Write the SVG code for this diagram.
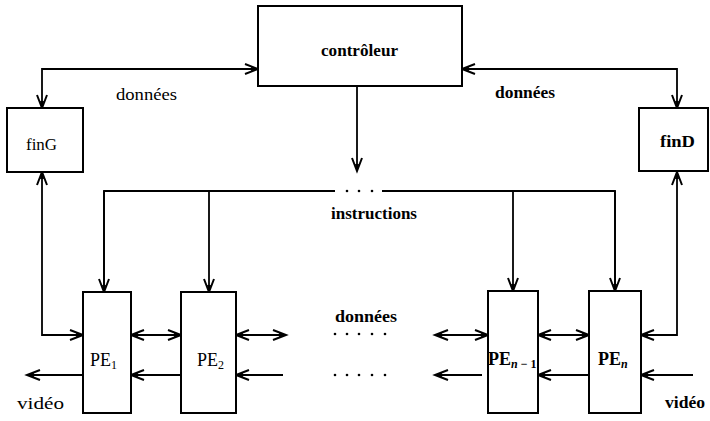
<svg xmlns="http://www.w3.org/2000/svg" width="710" height="421" viewBox="0 0 710 421">
<style>
.box{fill:#fff;stroke:#000;stroke-width:2}
.ln{fill:none;stroke:#000;stroke-width:1.8}
.t{font-family:"Liberation Serif","Times New Roman",serif;fill:#000;font-size:16px}
.pe{font-size:18px}
.sub{font-size:12px}
.b{font-weight:bold}
</style>
<defs>
<marker id="ah" markerUnits="userSpaceOnUse" markerWidth="16" markerHeight="12" viewBox="-14 -6 16 12" refX="0" refY="0" orient="auto-start-reverse" overflow="visible">
<path d="M-13,-5 L0,0 L-13,5" fill="none" stroke="#000" stroke-width="2"/>
<path d="M-7,-2 L0,0 L-7,2 Z" fill="#000"/>
</marker>
</defs>
<rect width="710" height="421" fill="#fff"/>
<g id="connectors">
<path class="ln" d="M42,108 L42,69 L258,69" marker-start="url(#ah)" marker-end="url(#ah)"/>
<path class="ln" d="M462,69 L677,69 L677,108" marker-start="url(#ah)" marker-end="url(#ah)"/>
<path class="ln" d="M357,86 L357,171" marker-end="url(#ah)"/>
<path class="ln" d="M104,292 L104,191 L335,191"/>
<path class="ln" d="M382,191 L615,191 L615,291"/>
<circle cx="347" cy="191" r="1.3"/><circle cx="359" cy="191" r="1.3"/><circle cx="372" cy="191" r="1.3"/>
<path class="ln" d="M104,191 L104,292" marker-end="url(#ah)"/>
<path class="ln" d="M209,191 L209,292" marker-end="url(#ah)"/>
<path class="ln" d="M513,191 L513,291" marker-end="url(#ah)"/>
<path class="ln" d="M615,191 L615,291" marker-end="url(#ah)"/>
<path class="ln" d="M42,172 L42,335 L83,335" marker-start="url(#ah)" marker-end="url(#ah)"/>
<path class="ln" d="M677,172 L677,335 L641,335" marker-start="url(#ah)" marker-end="url(#ah)"/>
<path class="ln" d="M131,335 L181,335" marker-start="url(#ah)" marker-end="url(#ah)"/>
<path class="ln" d="M236,335 L286,335" marker-start="url(#ah)" marker-end="url(#ah)"/>
<path class="ln" d="M435,335 L488,335" marker-start="url(#ah)" marker-end="url(#ah)"/>
<path class="ln" d="M538,335 L589,335" marker-start="url(#ah)" marker-end="url(#ah)"/>
<path class="ln" d="M181,375 L131,375" marker-end="url(#ah)"/>
<path class="ln" d="M283,375 L236,375" marker-end="url(#ah)"/>
<path class="ln" d="M83,375 L27,375" marker-end="url(#ah)"/>
<path class="ln" d="M482,375 L435,375" marker-end="url(#ah)"/>
<path class="ln" d="M589,375 L538,375" marker-end="url(#ah)"/>
<path class="ln" d="M693,375 L641,375" marker-end="url(#ah)"/>
<g id="dots">
<circle cx="335" cy="334" r="1.3"/><circle cx="347" cy="334" r="1.3"/><circle cx="359" cy="334" r="1.3"/><circle cx="372" cy="334" r="1.3"/><circle cx="385" cy="334" r="1.3"/>
<circle cx="335" cy="375" r="1.3"/><circle cx="347" cy="375" r="1.3"/><circle cx="359" cy="375" r="1.3"/><circle cx="372" cy="375" r="1.3"/><circle cx="385" cy="375" r="1.3"/>
</g>
</g>
<g id="labels">
<text class="t" x="116" y="100" textLength="61" lengthAdjust="spacingAndGlyphs">données</text>
<text class="t b" x="495" y="98" textLength="60" lengthAdjust="spacingAndGlyphs">données</text>
<text class="t b" x="331" y="219" textLength="86" lengthAdjust="spacingAndGlyphs">instructions</text>
<text class="t b" x="335" y="322" textLength="62" lengthAdjust="spacingAndGlyphs">données</text>
<text class="t" x="17" y="409" textLength="47" lengthAdjust="spacingAndGlyphs">vidéo</text>
<text class="t b" x="665" y="408" textLength="40" lengthAdjust="spacingAndGlyphs">vidéo</text>
</g>
<g id="controleur">
<rect class="box" x="258" y="6" width="204" height="80"/>
<text class="t b" x="321" y="56" textLength="77" lengthAdjust="spacingAndGlyphs">contrôleur</text>
</g>
<g id="finG">
<rect class="box" x="7" y="108" width="76" height="64"/>
<text class="t" x="26" y="150" textLength="31" lengthAdjust="spacingAndGlyphs">finG</text>
</g>
<g id="finD">
<rect class="box" x="639" y="108" width="69" height="63"/>
<text class="t b" x="660" y="147" textLength="35" lengthAdjust="spacingAndGlyphs">finD</text>
</g>
<g id="PE1">
<rect class="box" x="83" y="292" width="48" height="121"/>
<text class="t pe" x="90" y="366">PE<tspan class="sub" dy="3">1</tspan></text>
</g>
<g id="PE2">
<rect class="box" x="181" y="292" width="55" height="121"/>
<text class="t pe" x="197" y="366">PE<tspan class="sub" dy="3">2</tspan></text>
</g>
<g id="PEn-1">
<rect class="box" x="488" y="291" width="50" height="122"/>
<text class="t pe b" x="488" y="365">PE<tspan class="sub" dy="3" font-style="italic">n</tspan><tspan class="sub"> − 1</tspan></text>
</g>
<g id="PEn">
<rect class="box" x="589" y="291" width="52" height="122"/>
<text class="t pe b" x="598" y="365">PE<tspan class="sub" dy="3" font-style="italic">n</tspan></text>
</g>
</svg>
